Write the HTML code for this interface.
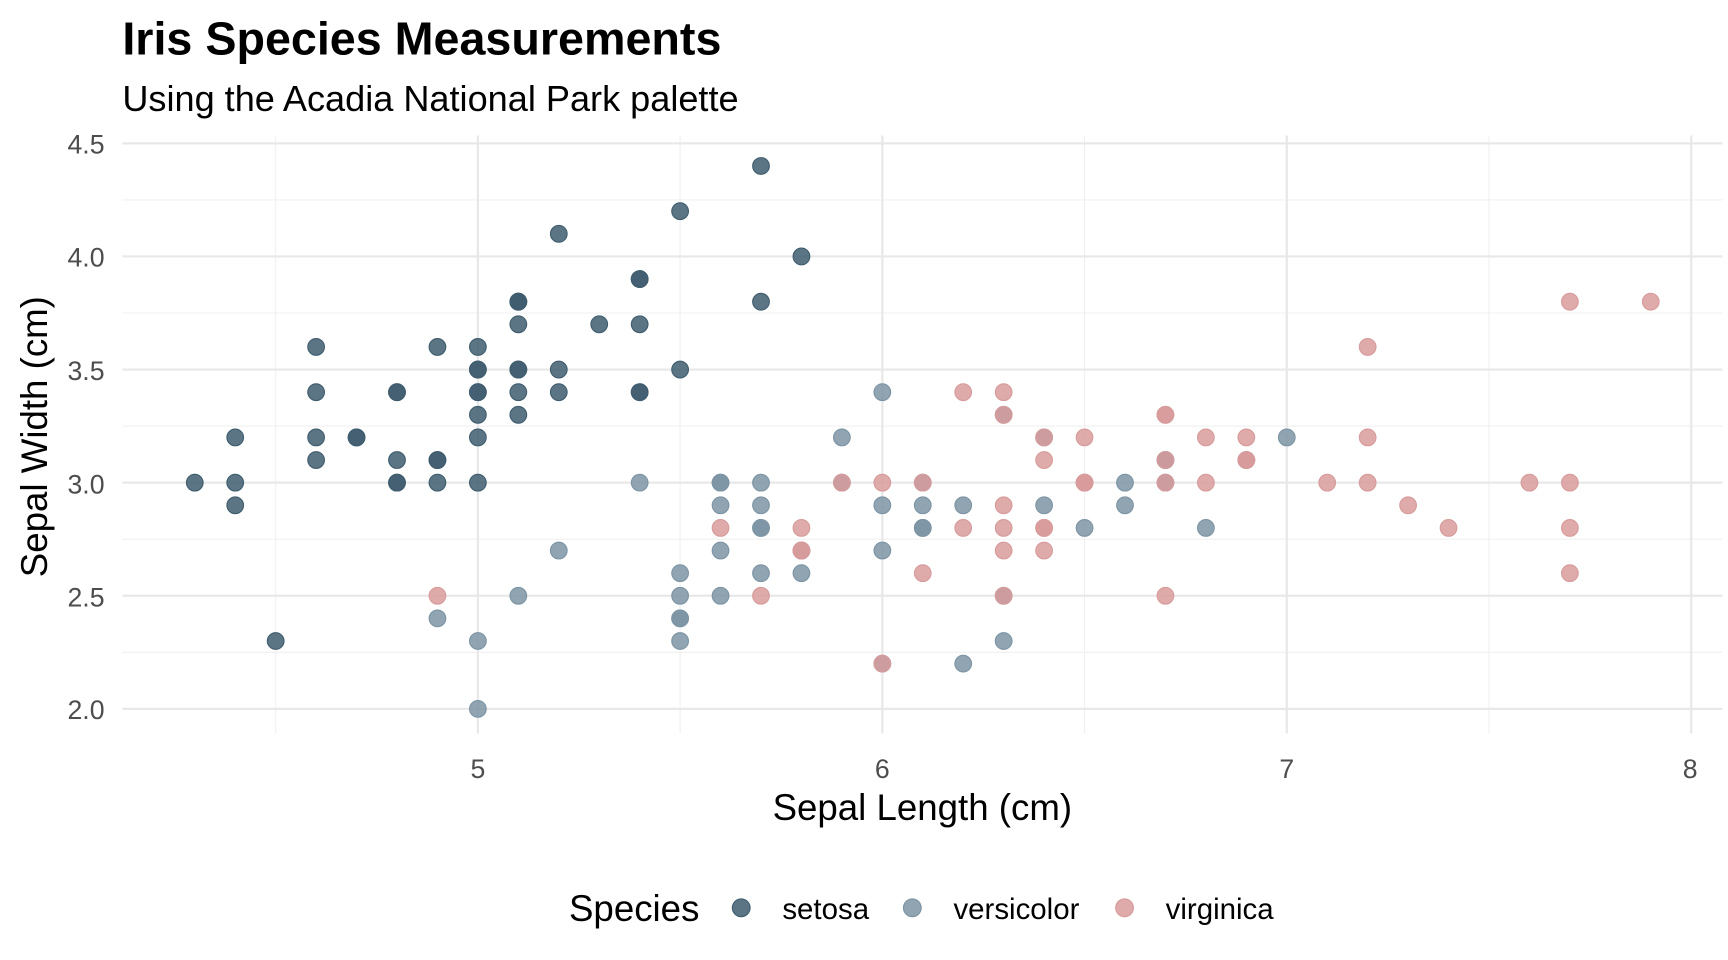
<!DOCTYPE html>
<html><head><meta charset="utf-8"><style>
html,body{margin:0;padding:0;background:#fff;}
svg{display:block;font-family:"Liberation Sans",Arial,sans-serif;}
</style></head><body>
<svg id="s" width="1728" height="960" viewBox="0 0 1555 864" xmlns="http://www.w3.org/2000/svg">
<rect width="1555" height="864" fill="#fff"/>
<g id="grid"></g>
<g id="pts"></g>
<text x="110" y="49" font-size="42" font-weight="bold" fill="#000">Iris Species Measurements</text>
<text x="110" y="100" font-size="32.5" fill="#000">Using the Acadia National Park palette</text>
<g font-size="24" fill="#4d4d4d" text-anchor="end">
<text x="94" y="138">4.5</text><text x="94" y="240">4.0</text><text x="94" y="342">3.5</text>
<text x="94" y="444">3.0</text><text x="94" y="546">2.5</text><text x="94" y="647">2.0</text>
</g>
<g font-size="24" fill="#4d4d4d" text-anchor="middle">
<text x="430" y="700">5</text><text x="794" y="700">6</text><text x="1158" y="700">7</text><text x="1521" y="700">8</text>
</g>
<text x="830" y="738" font-size="33" text-anchor="middle" fill="#000">Sepal Length (cm)</text>
<text transform="translate(42,393) rotate(-90)" font-size="33" text-anchor="middle" fill="#000">Sepal Width (cm)</text>
<text x="512" y="829" font-size="33" fill="#000">Species</text>
<circle cx="667" cy="817" r="8" fill="#3f5d6e" fill-opacity="0.85" stroke="#3f5d6e" stroke-width="1"/>
<text x="704" y="827" font-size="26.5" fill="#000">setosa</text>
<circle cx="821" cy="817" r="8" fill="#7c94a4" fill-opacity="0.85" stroke="#7c94a4" stroke-width="1"/>
<text x="858" y="827" font-size="26.5" fill="#000">versicolor</text>
<circle cx="1012" cy="817" r="8" fill="#d89b9b" fill-opacity="0.85" stroke="#d89b9b" stroke-width="1"/>
<text x="1049" y="827" font-size="26.5" fill="#000">virginica</text>
</svg>
<script>
var NS="http://www.w3.org/2000/svg";
function X(v){return 430+(v-5)*364;}
function Y(v){return 638-(v-2)*203.6;}
var g=document.getElementById("grid"),p=document.getElementById("pts");
function line(x1,y1,x2,y2,w,c){var l=document.createElementNS(NS,"line");l.setAttribute("x1",x1);l.setAttribute("y1",y1);l.setAttribute("x2",x2);l.setAttribute("y2",y2);l.setAttribute("stroke",c);l.setAttribute("stroke-width",w);g.appendChild(l);}
[2.25,2.75,3.25,3.75,4.25].forEach(function(v){line(110,Y(v),1550,Y(v),1,"#f0f0f0");});
[4.5,5.5,6.5,7.5].forEach(function(v){line(X(v),122,X(v),660,1,"#f0f0f0");});
[2,2.5,3,3.5,4,4.5].forEach(function(v){line(110,Y(v),1550,Y(v),2,"#e8e8e8");});
[5,6,7,8].forEach(function(v){line(X(v),122,X(v),660,2,"#e8e8e8");});
var d={
s:"5.1,3.5;4.9,3.0;4.7,3.2;4.6,3.1;5.0,3.6;5.4,3.9;4.6,3.4;5.0,3.4;4.4,2.9;4.9,3.1;5.4,3.7;4.8,3.4;4.8,3.0;4.3,3.0;5.8,4.0;5.7,4.4;5.4,3.9;5.1,3.5;5.7,3.8;5.1,3.8;5.4,3.4;5.1,3.7;4.6,3.6;5.1,3.3;4.8,3.4;5.0,3.0;5.0,3.4;5.2,3.5;5.2,3.4;4.7,3.2;4.8,3.1;5.4,3.4;5.2,4.1;5.5,4.2;4.9,3.1;5.0,3.2;5.5,3.5;4.9,3.6;4.4,3.0;5.1,3.4;5.0,3.5;4.5,2.3;4.4,3.2;5.0,3.5;5.1,3.8;4.8,3.0;5.1,3.8;4.6,3.2;5.3,3.7;5.0,3.3",
v:"7.0,3.2;6.4,3.2;6.9,3.1;5.5,2.3;6.5,2.8;5.7,2.8;6.3,3.3;4.9,2.4;6.6,2.9;5.2,2.7;5.0,2.0;5.9,3.0;6.0,2.2;6.1,2.9;5.6,2.9;6.7,3.1;5.6,3.0;5.8,2.7;6.2,2.2;5.6,2.5;5.9,3.2;6.1,2.8;6.3,2.5;6.1,2.8;6.4,2.9;6.6,3.0;6.8,2.8;6.7,3.0;6.0,2.9;5.7,2.6;5.5,2.4;5.5,2.4;5.8,2.7;6.0,2.7;5.4,3.0;6.0,3.4;6.7,3.1;6.3,2.3;5.6,3.0;5.5,2.5;5.5,2.6;6.1,3.0;5.8,2.6;5.0,2.3;5.6,2.7;5.7,3.0;5.7,2.9;6.2,2.9;5.1,2.5;5.7,2.8",
g:"6.3,3.3;5.8,2.7;7.1,3.0;6.3,2.9;6.5,3.0;7.6,3.0;4.9,2.5;7.3,2.9;6.7,2.5;7.2,3.6;6.5,3.2;6.4,2.7;6.8,3.0;5.7,2.5;5.8,2.8;6.4,3.2;6.5,3.0;7.7,3.8;7.7,2.6;6.0,2.2;6.9,3.2;5.6,2.8;7.7,2.8;6.3,2.7;6.7,3.3;7.2,3.2;6.2,2.8;6.1,3.0;6.4,2.8;7.2,3.0;7.4,2.8;7.9,3.8;6.4,2.8;6.3,2.8;6.1,2.6;7.7,3.0;6.3,3.4;6.4,3.1;6.0,3.0;6.9,3.1;6.7,3.1;6.9,3.1;5.8,2.7;6.8,3.2;6.7,3.3;6.7,3.0;6.3,2.5;6.5,3.0;6.2,3.4;5.9,3.0"};
var col={s:"#3f5d6e",v:"#7c94a4",g:"#d89b9b"};
["s","v","g"].forEach(function(k){d[k].split(";").forEach(function(q){var a=q.split(",");var c=document.createElementNS(NS,"circle");c.setAttribute("cx",X(+a[0]));c.setAttribute("cy",Y(+a[1]));c.setAttribute("r",7.5);c.setAttribute("fill",col[k]);c.setAttribute("fill-opacity","0.85");c.setAttribute("stroke",col[k]);c.setAttribute("stroke-width","1");p.appendChild(c);});});
</script>
</body></html>
